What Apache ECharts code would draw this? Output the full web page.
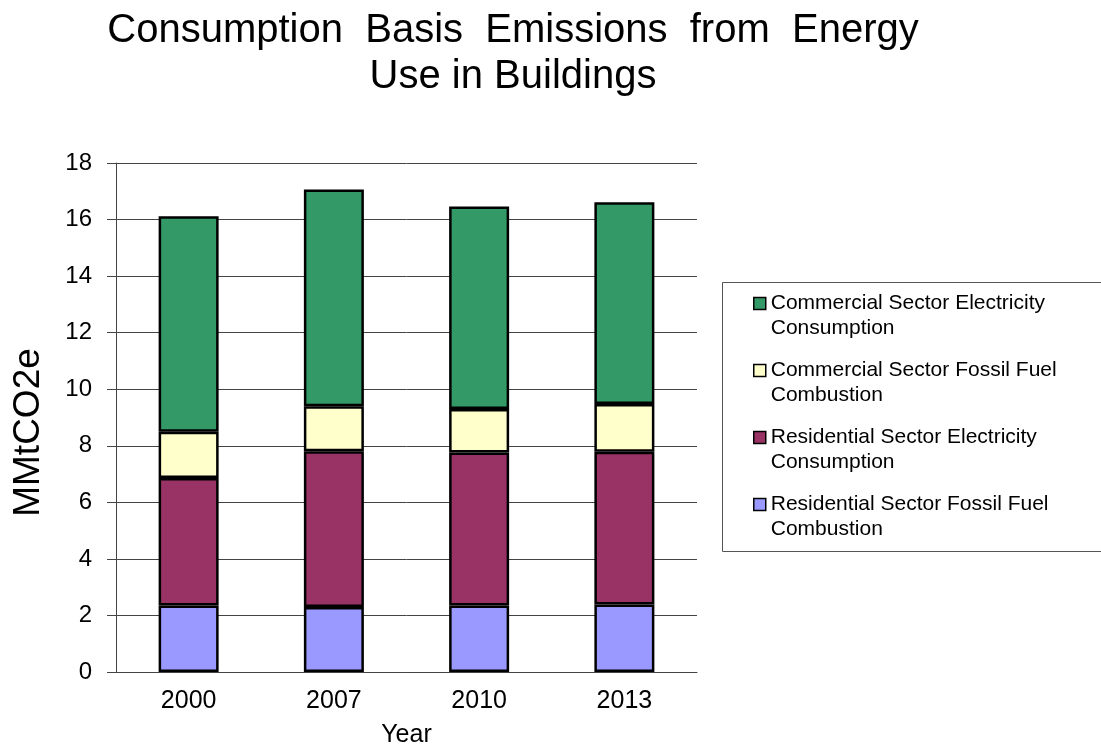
<!DOCTYPE html>
<html>
<head>
<meta charset="utf-8">
<script src="https://cdn.jsdelivr.net/npm/echarts@6/dist/echarts.min.js"></script>
<style>
  html, body { margin: 0; padding: 0; background: #fff; }
  #chart { width: 1101px; height: 747px; }
</style>
</head>
<body>
<div id="chart"></div>
<script>
// 年份
const years = ['2000', '2007', '2010', '2013'];
// 各部門排放 (MMtCO2e)
const resFossil = [2.35, 2.30, 2.35, 2.39];
const resElec = [4.51, 5.51, 5.41, 5.40];
const comFossil = [1.64, 1.59, 1.54, 1.69];
const comElec = [7.62, 7.66, 7.16, 7.13];
const yTicks = [0, 2, 4, 6, 8, 10, 12, 14, 16, 18];

const font = 'Liberation Sans, Arial, sans-serif';
const myChart = echarts.init(document.getElementById('chart'));

const barSeries = (name, data, color) => ({
    name: name,
    type: 'bar',
    stack: 'total',
    barWidth: 60,
    data: data,
    itemStyle: { color: color, borderColor: '#000', borderWidth: 2.5 }
});

const options = {
    animation: false,
    title: {
        text: 'Consumption  Basis  Emissions  from  Energy\nUse in Buildings',
        left: 513,
        top: 8,
        padding: 0,
        textAlign: 'center',
        textStyle: { fontFamily: font, fontSize: 40, fontWeight: 'normal', color: '#000', lineHeight: 46 }
    },
    legend: {
        orient: 'vertical',
        left: 753,
        top: 266,
        padding: 0,
        itemGap: -8,
        itemWidth: 12,
        itemHeight: 12,
        icon: 'rect',
        itemStyle: { borderColor: '#000', borderWidth: 1.5 },
        data: [
            'Commercial Sector Electricity Consumption',
            'Commercial Sector Fossil Fuel Combustion',
            'Residential Sector Electricity Consumption',
            'Residential Sector Fossil Fuel Combustion'
        ],
        // 空一行讓圖示對齊第一行, 最後一個字換行
        formatter: name => '\n' + name.replace(/ (\S+)$/, '\n$1'),
        textStyle: { fontFamily: font, fontSize: 21, color: '#000', lineHeight: 25 }
    },
    // 圖例外框
    graphic: [{
        type: 'rect',
        shape: { x: 722.5, y: 282.5, width: 400, height: 269 },
        style: { fill: 'none', stroke: '#555', lineWidth: 1 },
        z: -1
    }],
    grid: { left: 116, right: 404, top: 163, bottom: 75, outerBoundsMode: 'none' },
    xAxis: {
        type: 'category',
        data: years,
        name: 'Year',
        nameLocation: 'middle',
        nameGap: 51,
        nameTextStyle: { fontFamily: font, fontSize: 25, color: '#000' },
        axisLine: { lineStyle: { color: '#444', width: 1 } },
        axisTick: { length: 7, lineStyle: { color: '#444' } },
        axisLabel: { fontFamily: font, fontSize: 25, color: '#000', margin: 17 }
    },
    yAxis: {
        type: 'value',
        min: yTicks[0],
        max: yTicks[yTicks.length - 1],
        interval: 2,
        name: 'MMtCO2e',
        nameLocation: 'middle',
        nameGap: 69,
        nameTextStyle: { fontFamily: font, fontSize: 37, color: '#000', padding: [0, 30, 0, 0] },
        axisLine: { show: true, lineStyle: { color: '#444', width: 1 } },
        axisTick: { show: true, length: 9, lineStyle: { color: '#444' } },
        axisLabel: { fontFamily: font, fontSize: 24, color: '#000', margin: 24 },
        splitLine: { lineStyle: { color: '#444', width: 1 } }
    },
    series: [
        barSeries('Residential Sector Fossil Fuel Combustion', resFossil, '#9999FF'),
        barSeries('Residential Sector Electricity Consumption', resElec, '#993366'),
        barSeries('Commercial Sector Fossil Fuel Combustion', comFossil, '#FFFFCC'),
        barSeries('Commercial Sector Electricity Consumption', comElec, '#339966')
    ]
};

myChart.setOption(options);
</script>
</body>
</html>
